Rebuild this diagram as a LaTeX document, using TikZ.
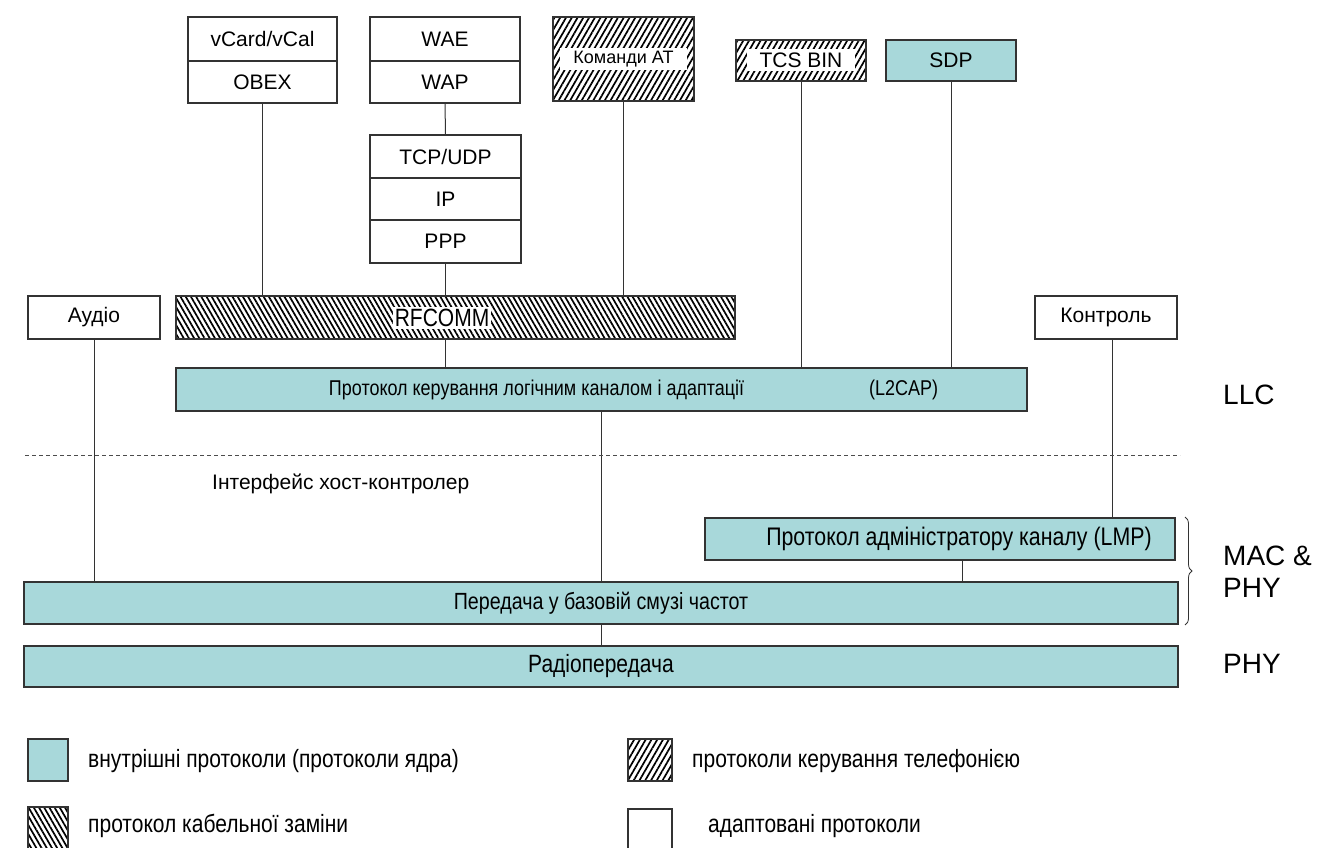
\documentclass[tikz,border=0pt]{standalone}
\usepackage{fontspec}
\setmainfont{Liberation Sans}
\newfontfamily\narrowsf[FakeStretch=0.84]{Liberation Sans}
\usetikzlibrary{patterns.meta,decorations.pathreplacing}
\definecolor{corecyan}{RGB}{168,216,218}
\begin{document}
\begin{tikzpicture}
[x=1pt, y=-1pt,
 box/.style={draw=black!80, line width=1.2pt, inner sep=0pt, font=\fontsize{21}{24}\selectfont},
 adapted/.style={box, fill=white},
 core/.style={box, fill=corecyan, font=\narrowsf\fontsize{25}{28}\selectfont},
 phone/.style={box, pattern={Lines[angle=60,distance=5pt,line width=1.7pt]}},
 cable/.style={box, pattern={Lines[angle=-60,distance=4.5pt,line width=1.7pt]}},
 hole/.style={fill=white, inner sep=2pt},
 lbl/.style={font=\narrowsf\fontsize{25}{28}\selectfont, anchor=west, inner sep=0pt},
 layer/.style={font=\fontsize{28}{32}\selectfont, anchor=west, inner sep=0pt, align=left},
 link/.style={draw=black!80, line width=1pt}]
\useasboundingbox (0,0) rectangle (1336,848);

% upper protocols
\node[adapted, minimum width=149pt, minimum height=44pt] (vcard) at (262.5,39) {vCard/vCal};
\node[adapted, minimum width=149pt, minimum height=42pt] (obex) at (262.5,82) {OBEX};
\node[adapted, minimum width=150pt, minimum height=44pt] (wae) at (445,39) {WAE};
\node[adapted, minimum width=150pt, minimum height=42pt] (wap) at (445,82) {WAP};
\node[adapted, minimum width=151pt, minimum height=43pt] (tcp) at (445.5,156.5) {TCP/UDP};
\node[adapted, minimum width=151pt, minimum height=42pt] (ip) at (445.5,199) {IP};
\node[adapted, minimum width=151pt, minimum height=43pt] (ppp) at (445.5,241.5) {PPP};
\node[phone, minimum width=141pt, minimum height=84pt] (cmdat) at (623.5,59) {};
\node[hole, minimum width=127pt, minimum height=22pt, font=\fontsize{18}{20}\selectfont] (cmdattxt) at (cmdat) {Команди AT};
\node[phone, minimum width=130pt, minimum height=41pt] (tcsbin) at (801,60.5) {};
\node[hole, minimum width=108pt, minimum height=22pt, font=\fontsize{21}{24}\selectfont] (tcsbintxt) at (tcsbin) {TCS BIN};
\node[core, minimum width=130pt, minimum height=41pt, font=\fontsize{21}{24}\selectfont] (sdp) at (951,60.5) {SDP};

% middle row
\node[adapted, minimum width=132pt, minimum height=43pt] (audio) at (94,317.5) {Аудіо};
\node[cable, minimum width=559pt, minimum height=43pt] (rfcomm) at (455.5,317.5) {};
\node[hole, font=\narrowsf\fontsize{25}{28}\selectfont] (rfcommtxt) at (442,318) {RFCOMM};
\node[adapted, minimum width=142pt, minimum height=43pt] (control) at (1106,317.5) {Контроль};
\node[core, minimum width=851pt, minimum height=43pt] (l2cap) at (601.5,389.5) {};
\node[font=\narrowsf\fontsize{21.4}{24}\selectfont] (l2captxt) at (633.5,389.5) {Протокол керування логічним каналом і адаптації\hspace{125pt}(L2CAP)};

% lower layers
\node[core, minimum width=470pt, minimum height=42pt] (lmp) at (940,539) {};
\node[font=\narrowsf\fontsize{25.4}{28}\selectfont] (lmptxt) at (959,539) {Протокол адміністратору каналу\hspace{6pt}(LMP)};
\node[core, minimum width=1154pt, minimum height=42pt, font=\narrowsf\fontsize{23.4}{26}\selectfont] (baseband) at (601,603) {Передача у базовій смузі частот};
\node[core, minimum width=1154pt, minimum height=41pt] (radio) at (601,666.5) {Радіопередача};

\draw[link] (obex.south) -- (obex.south |- rfcomm.north);
\draw[link] (wap.south) -- (tcp.north);
\draw[link] (ppp.south) -- (ppp.south |- rfcomm.north);
\draw[link] (cmdat.south) -- (cmdat.south |- rfcomm.north);
\draw[link] (tcsbin.south) -- (tcsbin.south |- l2cap.north);
\draw[link] (sdp.south) -- (sdp.south |- l2cap.north);
\draw[link] (rfcomm.south -| ppp.south) -- (ppp.south |- l2cap.north);
\draw[link] (audio.south) -- (audio.south |- baseband.north);
\draw[link] ([xshift=6pt]control.south) -- ([xshift=6pt]control.south |- lmp.north);
\draw[link] (l2cap.south -| baseband.north) -- (baseband.north);
\draw[link] ([xshift=22pt]lmp.south) -- ([xshift=22pt]lmp.south |- baseband.north);
\draw[link] (baseband.south) -- (radio.north);

\coordinate (hcileft) at (25,455);
\coordinate (hciright) at (1180,455);
\draw[black!70, line width=0.8pt, dash pattern=on 4pt off 3pt] (hcileft) -- (hciright);
\node[font=\fontsize{21}{24}\selectfont, anchor=west, inner sep=0pt] (hci) at (212,484) {Інтерфейс хост-контролер};

% layer names
\node[layer] (llc) at (1223,395) {LLC};
\coordinate (bracetop) at (1185,517);
\coordinate (bracebot) at (1185,625);
\draw[black!80, line width=0.8pt, decorate, decoration={brace, amplitude=7pt}] (bracetop) -- (bracebot);
\node[layer] (macphy) at (1223,572) {MAC \&\\PHY};
\node[layer] (phy) at (1223,664) {PHY};

% legend
\node[core, minimum width=40pt, minimum height=42pt] (keycore) at (48,760) {};
\node[lbl] (keycoretxt) at (88,761) {внутрішні протоколи (протоколи ядра)};
\node[phone, minimum width=44pt, minimum height=42pt] (keyphone) at (650,760) {};
\node[lbl] (keyphonetxt) at (692,761) {протоколи керування телефонією};
\node[cable, minimum width=40pt, minimum height=42pt] (keycable) at (48,828) {};
\node[lbl] (keycabletxt) at (88,826) {протокол кабельної заміни};
\node[adapted, minimum width=44pt, minimum height=40pt] (keyadapt) at (650,829) {};
\node[lbl] (keyadapttxt) at (708,826) {адаптовані протоколи};
\end{tikzpicture}
\end{document}
